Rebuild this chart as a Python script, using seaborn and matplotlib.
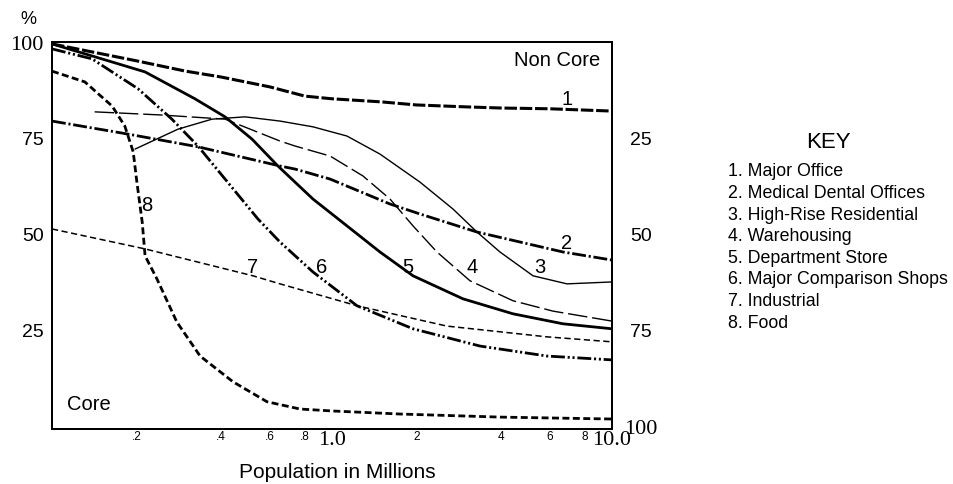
import pandas as pd
import seaborn as sns
import matplotlib.pyplot as plt
from matplotlib.ticker import NullLocator

# data (x = population in millions, y = % in core)
office_x = [0.1, 0.2, 0.3, 0.4, 0.6, 0.8, 1.0, 1.5, 2, 3, 4, 6, 10]
office_y = [99.5, 95.1, 92.4, 90.9, 88.3, 85.9, 85.2, 84.4, 83.6, 83.1, 82.8, 82.6, 82.0]

medical_x = [0.1, 0.187, 0.332, 0.652, 0.738, 0.984, 1.611, 2.062, 3.295, 6.683, 10]
medical_y = [79.4, 76.0, 72.7, 67.7, 66.9, 64.3, 57.8, 55.2, 50.5, 45.3, 43.2]

highrise_x = [0.198, 0.282, 0.373, 0.489, 0.652, 0.855, 1.131, 1.484, 2.062, 2.704, 3.295, 3.981, 5.224, 6.906, 10]
highrise_y = [72.1, 77.3, 79.9, 80.5, 79.4, 77.9, 75.5, 70.8, 63.5, 56.5, 50.5, 45.3, 39.1, 37.0, 37.5]

warehouse_x = [0.142, 0.243, 0.415, 0.652, 0.738, 0.984, 1.29, 1.611, 1.947, 2.371, 3.111, 4.431, 6.156, 10]
warehouse_y = [81.8, 81.0, 79.9, 74.2, 72.9, 70.3, 65.1, 59.1, 52.1, 45.3, 37.8, 32.6, 29.9, 27.3]

dept_x = [0.1, 0.215, 0.324, 0.415, 0.518, 0.641, 0.855, 1.131, 1.484, 1.947, 2.937, 4.431, 6.683, 10]
dept_y = [99.5, 92.2, 85.2, 80.5, 74.7, 67.7, 59.1, 52.1, 45.3, 39.1, 33.1, 29.2, 26.6, 25.3]

shops_x = [0.1, 0.139, 0.203, 0.268, 0.332, 0.415, 0.544, 0.652, 0.855, 1.228, 1.947, 3.378, 5.861, 10]
shops_y = [98.2, 95.6, 87.8, 79.9, 72.9, 64.3, 53.9, 47.9, 40.1, 31.3, 25.3, 20.8, 18.2, 17.2]

industrial_x = [0.1, 0.215, 0.522, 0.652, 1.228, 2.574, 5.861, 10]
industrial_y = [51.3, 46.1, 39.1, 37.0, 31.3, 26.0, 23.2, 21.9]

food_x = [0.1, 0.131, 0.164, 0.182, 0.195, 0.201, 0.210, 0.215, 0.237, 0.279, 0.338, 0.443, 0.586, 0.769, 1.0, 1.75, 3.98, 10]
food_y = [92.4, 89.6, 83.3, 78.1, 71.4, 63.5, 53.1, 44.3, 38.3, 27.1, 18.2, 11.5, 6.3, 4.4, 3.9, 3.1, 2.3, 1.8]

key_labels = ['1. Major Office', '2. Medical Dental Offices', '3. High-Rise Residential',
              '4. Warehousing', '5. Department Store', '6. Major Comparison Shops',
              '7. Industrial', '8. Food']

x_ticks = [0.2, 0.4, 0.6, 0.8, 1.0, 2, 4, 6, 8, 10]
x_ticklabels = ['.2', '.4', '.6', '.8', '1.0', '2', '4', '6', '8', '10.0']
left_ticks = [100, 75, 50, 25]
right_ticklabels = ['25', '50', '75', '100']

sns.set_theme(style='white')
plt.rcParams['font.family'] = ['Liberation Sans', 'DejaVu Sans']
plt.rcParams['lines.scale_dashes'] = False
plt.rcParams['text.color'] = 'black'
plt.rcParams['axes.labelcolor'] = 'black'
plt.rcParams['xtick.color'] = 'black'
plt.rcParams['ytick.color'] = 'black'

fig = plt.figure(figsize=(9.54, 4.85), dpi=100)
ax = fig.add_axes([0.0545, 0.1134, 0.587, 0.798])

curves = [
    (office_x, office_y, 2.2, (0, (9, 2))),
    (medical_x, medical_y, 2.0, (0, (10, 2, 1.5, 2))),
    (highrise_x, highrise_y, 1.0, '-'),
    (warehouse_x, warehouse_y, 1.0, (0, (14, 3.5))),
    (dept_x, dept_y, 2.0, '-'),
    (shops_x, shops_y, 2.0, (0, (10, 2, 1.5, 2, 1.5, 2))),
    (industrial_x, industrial_y, 1.1, (0, (4.5, 2.5))),
    (food_x, food_y, 2.0, (0, (5, 2.5))),
]
for xs, ys, lw, ls in curves:
    df = pd.DataFrame({'pop': xs, 'pct': ys})
    sns.lineplot(data=df, x='pop', y='pct', ax=ax, color='black', linewidth=lw,
                 linestyle=ls, estimator=None, legend=False)

ax.set_xscale('log')
ax.set_xlim(0.1, 10)
ax.set_ylim(-0.8, 100)
ax.xaxis.set_minor_locator(NullLocator())
ax.set_xticks(x_ticks)
ax.set_xticklabels(x_ticklabels)
for lab in ax.get_xticklabels():
    if lab.get_text() in ('1.0', '10.0'):
        lab.set_fontsize(16)
        lab.set_family('Liberation Serif')
    else:
        lab.set_fontsize(8.5)
ax.tick_params(axis='x', length=0, pad=1)

ax.set_yticks(left_ticks)
ax.set_yticklabels([str(v) for v in left_ticks])
for lab in ax.get_yticklabels():
    if lab.get_text() == '100':
        lab.set_family('Liberation Serif')
        lab.set_fontsize(16)
    else:
        lab.set_fontsize(14)
ax.tick_params(axis='y', length=0, pad=6)
ax.set_xlabel('Population in Millions', fontsize=15)
ax.xaxis.set_label_coords(0.509, -0.111)
ax.xaxis.label.set_va('center')
ax.set_ylabel('')

# right axis: percentage non core
ax2 = ax.twinx()
ax2.set_ylim(ax.get_ylim())
ax2.set_yticks([75, 50, 25, 0])
ax2.set_yticklabels(right_ticklabels)
for lab in ax2.get_yticklabels():
    lab.set_ha('center')
    if lab.get_text() == '100':
        lab.set_family('Liberation Serif')
        lab.set_fontsize(16)
    else:
        lab.set_fontsize(14)
ax2.tick_params(axis='y', length=0, pad=21)

for a in (ax, ax2):
    for sp in a.spines.values():
        sp.set_visible(True)
        sp.set_color('black')
        sp.set_linewidth(1.4)

# curve numbers
curve_nums = ['1', '2', '3', '4', '5', '6', '7', '8']
num_pos = [(6.9, 85.4), (6.9, 47.9), (5.53, 41.4), (3.16, 41.4),
           (1.87, 41.4), (0.921, 41.4), (0.522, 41.4), (0.218, 57.8)]
for n, (px, py) in zip(curve_nums, num_pos):
    ax.text(px, py, n, fontsize=14.5, ha='center', va='center')

ax.text(0.979, 0.956, 'Non Core', transform=ax.transAxes, ha='right', va='center', fontsize=14.5)
ax.text(0.027, 0.065, 'Core', transform=ax.transAxes, ha='left', va='center', fontsize=14.5)
fig.text(28 / 954, 1 - 20 / 485, '%', ha='center', va='center', fontsize=13)

# key
fig.text(828 / 954, 1 - 143 / 485, 'KEY', ha='center', va='center', fontsize=16)
for i, lab in enumerate(key_labels):
    fig.text(728 / 954, 1 - (172 + i * 21.6) / 485, lab, ha='left', va='center', fontsize=12.8)

fig.savefig('out.png', dpi=100)
